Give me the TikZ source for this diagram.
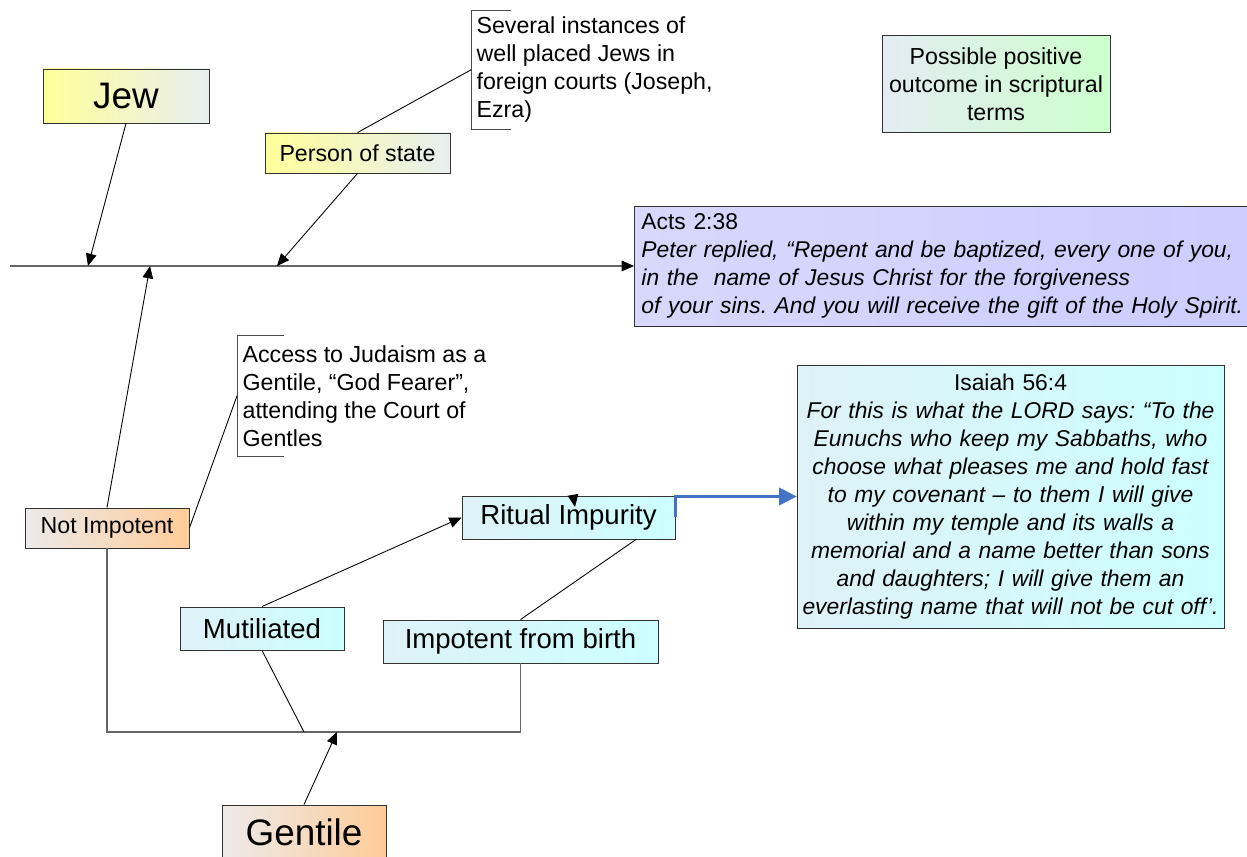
\documentclass[tikz,border=0pt]{standalone}
\usepackage{fontspec}
\setmainfont{Liberation Sans}
\frenchspacing
\usetikzlibrary{arrows.meta}
\definecolor{JewLeft}{RGB}{255,255,153}
\definecolor{JewRight}{RGB}{232,238,240}
\definecolor{GenLeft}{RGB}{236,234,234}
\definecolor{GenRight}{RGB}{255,204,153}
\definecolor{CyanLeft}{RGB}{222,242,248}
\definecolor{CyanRight}{RGB}{204,255,255}
\definecolor{GreenLeft}{RGB}{228,236,242}
\definecolor{GreenRight}{RGB}{204,255,204}
\definecolor{ActsLeft}{RGB}{216,216,252}
\definecolor{ActsRight}{RGB}{204,204,255}
\definecolor{BlueArc}{RGB}{68,114,196}
\tikzset{
BOX/.style ={draw=black!80,line width=0.5pt,inner sep=0pt,align=center,font=\fontsize{13.2}{15.9}\selectfont},
JEWBOX/.style ={BOX,left color=JewLeft,right color=JewRight},
GENBOX/.style ={BOX,left color=GenLeft,right color=GenRight},
CYANBOX/.style ={BOX,left color=CyanLeft,right color=CyanRight},
GREENBOX/.style ={BOX,left color=GreenLeft,right color=GreenRight},
ACTSBOX/.style ={BOX,left color=ActsLeft,right color=ActsRight},
NOTE/.style ={inner xsep=3pt,inner ysep=0pt,align=left,anchor=north west,font=\fontsize{13.2}{15.9}\selectfont},
VERSE/.style ={font=\fontsize{13}{15.9}\selectfont},
BIG/.style ={font=\fontsize{21}{25}\selectfont},
MID/.style ={font=\fontsize{15.7}{19}\selectfont},
ARC/.style ={draw=black,line width=0.5pt,-{Triangle[length=7pt,width=6pt]}},
LINE/.style ={draw=black,line width=0.5pt},
AXIS/.style ={draw=black!60,line width=0.7pt},
CALLOUT/.style ={draw=black!70,line width=0.5pt},
BLUEARC/.style ={draw=BlueArc,line width=1.3pt,-{Triangle[length=10pt,width=10pt]}},
}
\begin{document}
\begin{tikzpicture}[x=0.02cm,y=-0.02cm]
	\useasboundingbox (0,0) rectangle (1247,857);
	\clip (0,0) rectangle (1247,857);
	\node[JEWBOX,BIG,minimum width=3.32cm,minimum height=1.08cm] (jew) at (126,96) {Jew};
	\node[JEWBOX,minimum width=3.7cm,minimum height=0.8cm] (state) at (357.5,153) {Person of state};
	\node[GREENBOX,minimum width=4.56cm,minimum height=1.94cm] (outcome) at (996,84) {Possible positive\\outcome in scriptural\\terms};
	\node[NOTE,minimum height=2.38cm] (several) at (471,10) {Several instances of\\well placed Jews in\\foreign courts (Joseph,\\Ezra)};
	\node[ACTSBOX,VERSE,anchor=west,align=left,text width=12.6cm,inner xsep=4pt,minimum height=2.4cm] (acts) at (634,266)
		{Acts 2:38\\\itshape Peter replied, “Repent and be baptized, every one of you,\\in the\ \ name of Jesus Christ for the forgiveness\\of your sins. And you will receive the gift of the Holy Spirit.};
	\node[GENBOX,minimum width=3.28cm,minimum height=0.8cm] (notimp) at (107,528) {Not Impotent};
	\node[NOTE,minimum height=2.42cm] (access) at (237,335) {Access to Judaism as a\\Gentile, “God Fearer”,\\attending the Court of\\Gentles};
	\node[CYANBOX,MID,minimum width=4.26cm,minimum height=0.86cm] (rit) at (568.5,517.5) {Ritual Impurity};
	\node[CYANBOX,MID,minimum width=3.28cm,minimum height=0.86cm] (mut) at (262,628.5) {Mutiliated};
	\node[CYANBOX,MID,minimum width=5.5cm,minimum height=0.86cm] (imp) at (520.5,641.5) {Impotent from birth};
	\node[CYANBOX,VERSE,text width=8.54cm,minimum height=5.26cm] (isa) at (1010.5,496.5)
		{Isaiah 56:4\\\itshape For this is what the LORD says: “To the\\Eunuchs who keep my Sabbaths, who\\choose what pleases me and hold fast\\to my covenant -- to them I will give\\within my temple and its walls a\\memorial and a name better than sons\\and daughters; I will give them an\\everlasting name that will not be cut off’.};
	\node[GENBOX,BIG,minimum width=3.28cm,minimum height=1.08cm] (gen) at (304,832) {Gentile};
	%spine
	\coordinate (axis) at (10,266);
	\path[AXIS,-{Triangle[length=7pt,width=6pt,color=black]}] (axis) -- (acts.west);
	\coordinate (jewhit) at (88,266);
	\coordinate (statehit) at (277,266);
	\coordinate (nothit) at (150,266);
	\path[ARC] (jew.south) -- (jewhit);
	\path[ARC] (state.south) -- (statehit);
	\path[ARC] (notimp.north) -- (nothit);
	%callouts
	\path[CALLOUT] ([xshift=23pt]several.north west) -- (several.north west) -- (several.south west) -- ([xshift=23pt]several.south west);
	\path[LINE] (several.west) -- (state.north);
	\path[CALLOUT] ([xshift=27pt]access.north west) -- (access.north west) -- (access.south west) -- ([xshift=27pt]access.south west);
	\path[LINE] (notimp.east) -- (access.west);
	%gentile branch
	\path[ARC] (mut.north) -- (rit.west);
	\path[LINE] (imp.north) -- (rit.-18);
	\coordinate (stray) at (575,507);
	\coordinate (straytop) at (573,495);
	\path[ARC] (straytop) -- (stray);
	\path[BLUEARC] (rit.east) |- (isa.west);
	\coordinate (bar) at (304,732);
	\path[AXIS] (notimp.south) |- (bar) -| (imp.south);
	\path[LINE] (mut.south) -- (bar);
	\coordinate (genhit) at (337,732);
	\path[ARC] (gen.north) -- (genhit);
\end{tikzpicture}
\end{document}
